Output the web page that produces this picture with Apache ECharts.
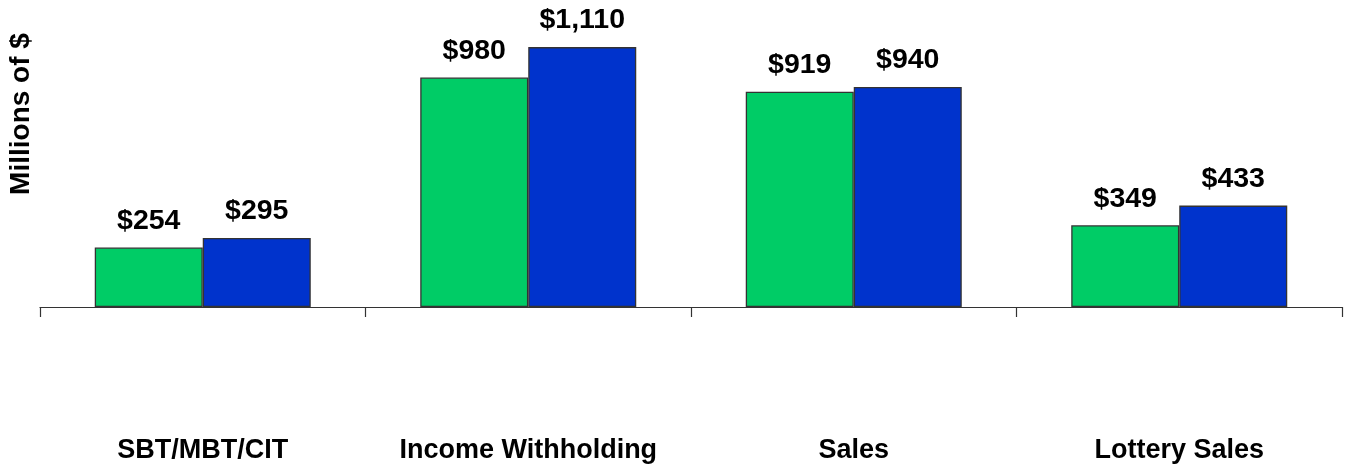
<!DOCTYPE html>
<html>
<head>
<meta charset="utf-8">
<script src="https://cdn.jsdelivr.net/npm/echarts@6/dist/echarts.min.js"></script>
<style>
html,body{margin:0;padding:0;background:#fff;}
#chart{width:1349px;height:470px;}
</style>
</head>
<body>
<div id="chart"></div>
<script>
const categories = ['SBT/MBT/CIT', 'Income Withholding', 'Sales', 'Lottery Sales'];
const seriesA = [254, 980, 919, 349];
const seriesB = [295, 1110, 940, 433];
const yAxisTitle = 'Millions of $';

const FONT = '"Liberation Sans", Arial, sans-serif';
const fmt = p => '$' + p.value.toLocaleString('en-US');

const labelStyle = {
  show: true,
  position: 'top',
  distance: 12,
  formatter: fmt,
  fontFamily: FONT,
  fontWeight: 'bold',
  fontSize: 28.5,
  color: '#000'
};

const chart = echarts.init(document.getElementById('chart'), null, {renderer: 'canvas'});
chart.setOption({
  animation: false,
  backgroundColor: '#fff',
  grid: {left: 40, right: 7, top: 26, bottom: 163, containLabel: false},
  xAxis: {
    type: 'category',
    data: categories,
    axisLine: {show: true, lineStyle: {color: '#333', width: 1.2}},
    axisTick: {show: true, interval: 0, length: 10, inside: false, lineStyle: {color: '#333', width: 1.2}},
    axisLabel: {
      interval: 0,
      hideOverlap: false,
      margin: 130,
      fontFamily: FONT,
      fontWeight: 'bold',
      fontSize: 27,
      color: '#000'
    }
  },
  yAxis: {
    type: 'value',
    min: 0,
    max: 1200,
    axisLine: {show: false},
    axisTick: {show: false},
    axisLabel: {show: false},
    splitLine: {show: false}
  },
  graphic: [{
    type: 'text',
    x: 21,
    y: 114,
    rotation: Math.PI / 2,
    style: {
      text: yAxisTitle,
      fontFamily: FONT,
      fontWeight: 'bold',
      fontSize: 28,
      fill: '#000',
      textAlign: 'center',
      textVerticalAlign: 'middle'
    }
  }],
  series: [
    {
      type: 'bar',
      data: seriesA,
      barWidth: 108,
      barGap: '0%',
      itemStyle: {color: '#00CC66', borderColor: '#333', borderWidth: 1.3},
      label: labelStyle
    },
    {
      type: 'bar',
      data: seriesB,
      barWidth: 108,
      barGap: '0%',
      itemStyle: {color: '#0033CC', borderColor: '#333', borderWidth: 1.3},
      label: labelStyle
    }
  ]
});
</script>
</body>
</html>
